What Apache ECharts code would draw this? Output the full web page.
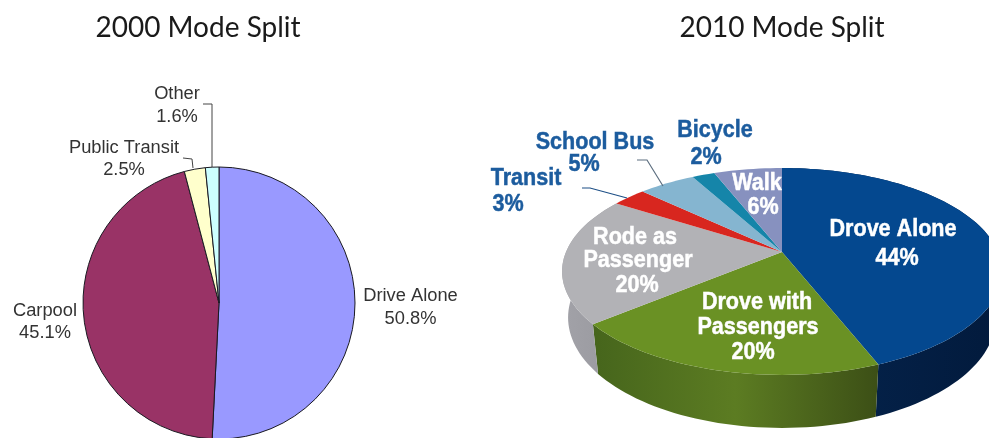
<!DOCTYPE html>
<html>
<head>
<meta charset="utf-8">
<style>html,body{margin:0;padding:0;background:#fff}#c{width:989px;height:438px}</style>
<script src="https://cdn.jsdelivr.net/npm/echarts@6/dist/echarts.min.js"></script>
</head>
<body>
<div id="c"></div>
<script>
// 2000 mode split
const names2000 = ['Drive Alone', 'Carpool', 'Public Transit', 'Other'];
const values2000 = [50.8, 45.1, 2.5, 1.6];
const colors2000 = ['#9999ff', '#993366', '#ffffcc', '#ccffff'];

// 2010 mode split, clockwise from twelve o'clock
const names2010 = ['Drove Alone', 'Drove with\nPassengers', 'Rode as\nPassenger', 'Transit', 'School Bus', 'Bicycle', 'Walk'];
const values2010 = [44, 20, 20, 3, 5, 2, 6];
const colors2010 = ['#04488f', '#6a9124', '#b2b2b6', '#d8261f', '#85b5d0', '#1585a9', '#8791bf'];
const wallStops2010 = [
  ['#05254f', '#021a3c'],
  ['#46651c', '#5c7c22', '#3c4f16'],
  ['#a2a2a8', '#98989e']
];

// Tilted disc: a circle seen in perspective, with its rim repeated lower down for the side wall
const disc = { cx: 782, apexY: 252, halfWidth: 216, yGain: 52.4, persp: -0.188,
               topCy: 271, topRy: 103, topRx: 220, lowCy: 317, lowRy: 110, lowRx: 214 };

function rimPoint(share) {
  const a = share / 100 * Math.PI * 2, X = Math.sin(a), Y = -Math.cos(a);
  const d = 1 + disc.persp * Y;
  return [disc.cx + disc.halfWidth * X / d, (disc.apexY + disc.yGain * Y) / d];
}
function lowerPoint(p) {
  return [disc.cx + (p[0] - disc.cx) * disc.lowRx / disc.topRx,
          disc.lowCy + (p[1] - disc.topCy) * disc.lowRy / disc.topRy];
}
function arc(from, to) {
  const pts = [], n = Math.max(2, Math.ceil((to - from) * 2));
  for (let i = 0; i <= n; i++) pts.push(rimPoint(from + (to - from) * i / n));
  return pts;
}
const startOf = i => values2010.slice(0, i).reduce((s, v) => s + v, 0);

function renderWall(params, api) {
  const i = params.dataIndex, stops = wallStops2010[i];
  if (!stops) return null;
  const from = startOf(i), to = from + api.value(0);
  const top = arc(from, to), low = top.map(lowerPoint).reverse();
  const xs = top.concat(low).map(p => p[0]);
  const x0 = Math.min.apply(null, xs), x1 = Math.max.apply(null, xs);
  return {
    type: 'polygon',
    shape: { points: top.concat(low) },
    style: {
      fill: new echarts.graphic.LinearGradient(x0, 0, x1, 0,
        stops.map((c, k) => ({ offset: k / (stops.length - 1), color: c })), true)
    }
  };
}
function renderTop(params, api) {
  const i = params.dataIndex, from = startOf(i), to = from + api.value(0);
  return {
    type: 'polygon',
    shape: { points: [[disc.cx, disc.apexY]].concat(arc(from, to)) },
    style: { fill: colors2010[i] }
  };
}

// Centre of each text line in the 2010 labels, name lines first and the share last
const BLUE = '#1c5c9e';
const lineSpots2010 = [
  [[893, 229], [897, 258]],
  [[757, 302], [758, 327], [753, 352]],
  [[635, 237], [638, 260], [637, 285]],
  [[526, 178], [508, 204]],
  [[595, 142], [584, 164]],
  [[715, 130], [706, 157]],
  [[757, 183], [763, 207]]
];
const labelColors2010 = ['#fff', '#fff', '#fff', BLUE, BLUE, BLUE, '#fff'];
function renderLabel(params, api) {
  const i = params.dataIndex;
  const lines = names2010[i].split('\n').concat(api.value(0) + '%');
  return {
    type: 'group',
    children: lines.map((line, k) => ({
      type: 'text',
      x: lineSpots2010[i][k][0], y: lineSpots2010[i][k][1],
      scaleX: 0.88,
      style: {
        text: line, fill: labelColors2010[i], align: 'center', verticalAlign: 'middle',
        stroke: labelColors2010[i], lineWidth: 0.5,
        font: 'bold 24.5px "Liberation Sans"'
      }
    }))
  };
}

// Leader strokes for the small 2010 slices
const leaders2010 = [
  [[637, 160], [647, 160], [663, 186]],
  [[582, 188], [590, 188], [627, 198]]
];

// Label spots for the 2000 pie
const spots2000 = [
  { x: 410.5, y: 285, align: 'center' },
  { x: 45, y: 299.5, align: 'center' },
  { x: 124, y: 136.5, align: 'center' },
  { x: 177, y: 83, align: 'center' }
];
const bends2000 = [null, null,
  [[193, 168], [192, 159], [183, 158]],
  [[212, 167], [212, 104], [203, 104]]];

const chart = echarts.init(document.getElementById('c'), null, { renderer: 'canvas' });
chart.setOption({
  backgroundColor: '#fff',
  animation: false,
  title: [
    { text: '2000 Mode Split', left: 193, top: 9, textAlign: 'center',
      textStyle: { fontFamily: 'Lato', fontWeight: 'normal', fontSize: 28, color: '#1a1a1a' } },
    { text: '2010 Mode Split', left: 777, top: 9, textAlign: 'center',
      textStyle: { fontFamily: 'Lato', fontWeight: 'normal', fontSize: 28, color: '#1a1a1a' } }
  ],
  series: [
    {
      type: 'pie',
      center: [219, 303],
      radius: [0, 136],
      startAngle: 90,
      clockwise: true,
      minAngle: 0,
      avoidLabelOverlap: false,
      data: names2000.map((name, i) => ({ name, value: values2000[i], itemStyle: { color: colors2000[i] } })),
      itemStyle: { borderColor: '#1a1a22', borderWidth: 1 },
      label: {
        show: true, position: 'outside',
        formatter: p => p.name + '\n' + p.value + '%',
        fontFamily: '"Liberation Sans"', fontSize: 18.3, lineHeight: 22.5, color: '#333'
      },
      labelLine: { show: true, lineStyle: { color: '#444', width: 1 } },
      labelLayout: p => {
        const s = spots2000[p.dataIndex], b = bends2000[p.dataIndex];
        return { x: s.x, y: s.y, align: s.align, verticalAlign: 'top', labelLinePoints: b || [[0, 0], [0, 0], [0, 0]] };
      }
    },
    { type: 'custom', coordinateSystem: 'none', z: 2, silent: true, data: values2010.map(v => [v]), renderItem: renderWall },
    { type: 'custom', coordinateSystem: 'none', z: 3, silent: true, data: values2010.map(v => [v]), renderItem: renderTop },
    { type: 'custom', coordinateSystem: 'none', z: 4, silent: true, data: leaders2010,
      renderItem: (params) => ({
        type: 'polyline',
        shape: { points: leaders2010[params.dataIndex] },
        style: { stroke: params.dataIndex ? '#1d4f86' : '#5d6f80', lineWidth: 1.2, fill: null }
      }) },
    { type: 'custom', coordinateSystem: 'none', z: 5, silent: true, data: values2010.map(v => [v]), renderItem: renderLabel }
  ]
});
</script>
</body>
</html>
